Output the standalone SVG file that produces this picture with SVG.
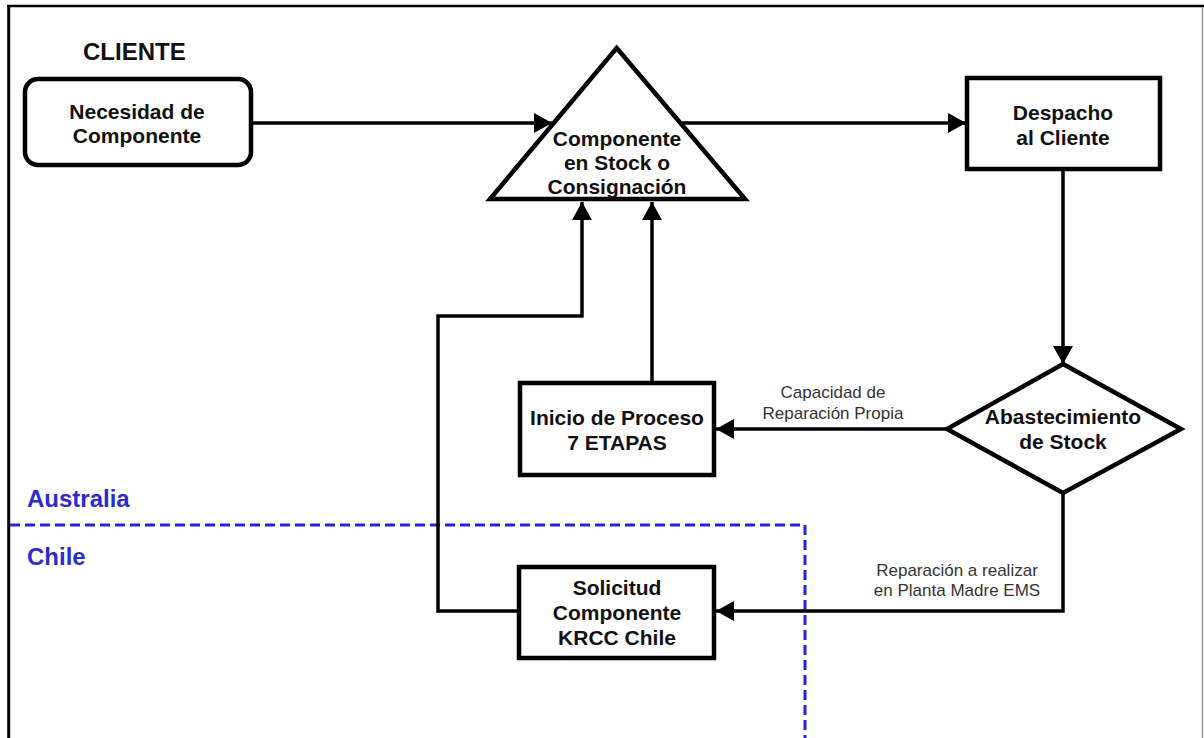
<svg xmlns="http://www.w3.org/2000/svg" width="1204" height="738" viewBox="0 0 1204 738">
<defs>
<style>
.node{fill:#fff;stroke:#000;stroke-width:4.5;stroke-linejoin:miter}
.nt{font-family:"Liberation Sans",Arial,sans-serif;font-weight:bold;font-size:21px;fill:#111;text-anchor:middle}
.lbl{font-family:"Liberation Sans",Arial,sans-serif;font-size:17px;fill:#333;text-anchor:middle}
.conn{fill:none;stroke:#000;stroke-width:3.5}
.region{font-family:"Liberation Sans",Arial,sans-serif;font-weight:bold;font-size:24px;fill:#2b2bd0}
</style>
<marker id="arr" markerUnits="userSpaceOnUse" viewBox="0 0 18 20" refX="18" refY="10" markerWidth="18" markerHeight="20" orient="auto">
<path d="M0,0 L18,10 L0,20 Z" fill="#000"/>
</marker>
</defs>
<rect x="0" y="0" width="1204" height="738" fill="#fff"/>
<g id="frame">
<line x1="7" y1="6" x2="1204" y2="6" stroke="#000" stroke-width="2.5"/>
<line x1="8.7" y1="5" x2="8.7" y2="738" stroke="#000" stroke-width="3"/>
<line x1="1202.5" y1="7" x2="1202.5" y2="738" stroke="#999" stroke-width="1.5"/>
</g>
<g id="regions">
<path d="M10,525 H805 V738" fill="none" stroke="#2424e0" stroke-width="3" stroke-dasharray="10,5"/>
<text class="region" x="27" y="507">Australia</text>
<text class="region" x="27" y="565">Chile</text>
</g>
<g id="connectors">
<line class="conn" x1="252" y1="123" x2="552" y2="123" marker-end="url(#arr)"/>
<line class="conn" x1="680" y1="123" x2="966" y2="123" marker-end="url(#arr)"/>
<line class="conn" x1="1063" y1="169" x2="1063" y2="364" marker-end="url(#arr)"/>
<line class="conn" x1="947" y1="429" x2="716" y2="429" marker-end="url(#arr)"/>
<line class="conn" x1="652" y1="383" x2="652" y2="202" marker-end="url(#arr)"/>
<polyline class="conn" points="1063,493 1063,611 716,611" marker-end="url(#arr)"/>
<polyline class="conn" points="519,611 438,611 438,316 582,316 582,202" marker-end="url(#arr)"/>
<text class="lbl" x="833" y="398">Capacidad de</text>
<text class="lbl" x="833" y="419">Reparación Propia</text>
<text class="lbl" x="957" y="576">Reparación a realizar</text>
<text class="lbl" x="957" y="596">en Planta Madre EMS</text>
</g>
<g id="cliente-label">
<text x="83" y="60" font-family="Liberation Sans, Arial, sans-serif" font-weight="bold" font-size="24" fill="#111">CLIENTE</text>
</g>
<g id="necesidad">
<rect class="node" x="25" y="79" width="226" height="86" rx="13"/>
<text class="nt" x="137" y="119">Necesidad de</text>
<text class="nt" x="137" y="143">Componente</text>
</g>
<g id="stock">
<polygon class="node" points="616.7,48 490,199 745,199"/>
<text class="nt" x="617" y="146">Componente</text>
<text class="nt" x="617" y="170">en Stock o</text>
<text class="nt" x="617" y="194">Consignación</text>
</g>
<g id="despacho">
<rect class="node" x="967" y="78" width="193" height="91"/>
<text class="nt" x="1063" y="120">Despacho</text>
<text class="nt" x="1063" y="145">al Cliente</text>
</g>
<g id="abastecimiento">
<polygon class="node" points="1063,364 1181,429 1063,493 947,429"/>
<text class="nt" x="1063" y="424">Abastecimiento</text>
<text class="nt" x="1063" y="449">de Stock</text>
</g>
<g id="inicio">
<rect class="node" x="520" y="383" width="194" height="92"/>
<text class="nt" x="617" y="425">Inicio de Proceso</text>
<text class="nt" x="617" y="450">7 ETAPAS</text>
</g>
<g id="solicitud">
<rect class="node" x="519" y="567" width="195" height="91"/>
<text class="nt" x="617" y="595">Solicitud</text>
<text class="nt" x="617" y="620">Componente</text>
<text class="nt" x="617" y="645">KRCC Chile</text>
</g>
</svg>
